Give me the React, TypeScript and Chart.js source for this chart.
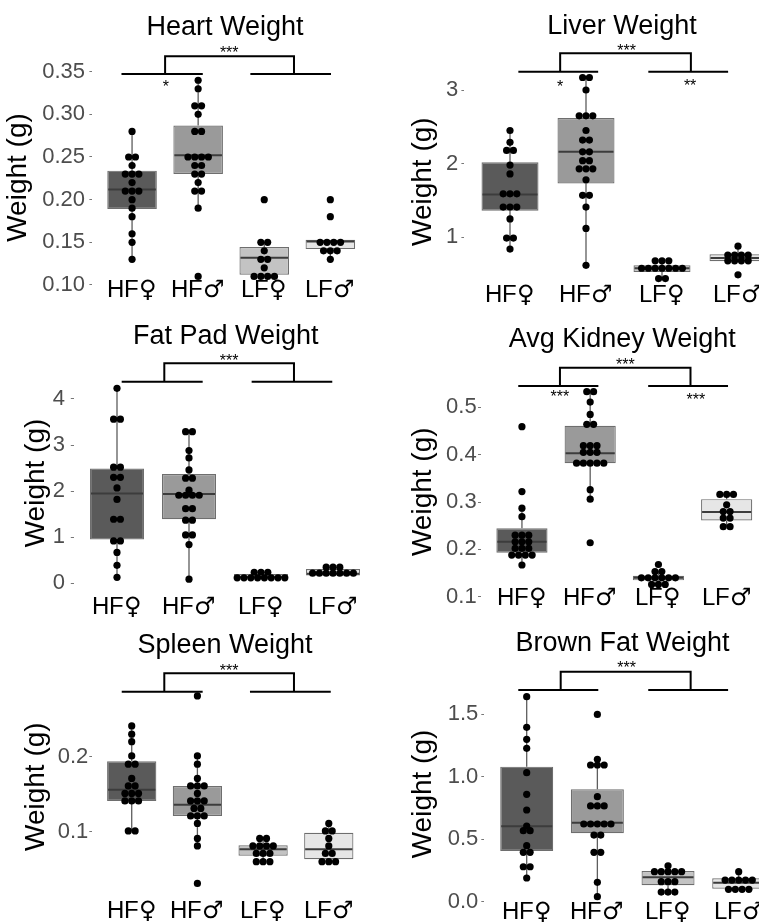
import React, { useEffect, useRef } from 'react';
import { Chart, registerables } from 'chart.js';

Chart.register(...registerables);

const FONT = '"Liberation Sans", "DejaVu Sans", Arial, sans-serif';
const LABEL_FONT = 'PanelSans, "Liberation Sans", "DejaVu Sans", sans-serif';
Chart.defaults.font.family = FONT;

const FONT_CSS = `
@font-face { font-family: 'PanelSans'; src: local('Liberation Sans'), local('LiberationSans'); }
@font-face { font-family: 'PanelSans'; src: local('DejaVu Sans'), local('DejaVuSans'); unicode-range: U+2640-2642; }
`;

const GROUPS = ['HF♀', 'HF♂', 'LF♀', 'LF♂'];
const Y_TITLE = 'Weight (g)';
const BOX_FILLS = ['#5a5a5a', '#9a9a9a', '#c3c3c3', '#e6e6e6'];
const BOX_EDGE = '#6e6e6e';
const WHISKER_COLOR = '#5e5e5e';
const MEDIAN_COLOR = '#3c3c3c';

// ---------- Heart ----------
const HEART_TITLE = 'Heart Weight';
const HEART_TICKS = [0.1, 0.15, 0.2, 0.25, 0.3, 0.35];
const HEART_TICK_LABELS = ['0.10', '0.15', '0.20', '0.25', '0.30', '0.35'];
// [lower whisker, Q1, median, Q3, upper whisker]
const HEART_BOX = [
  [0.13, 0.189, 0.212, 0.234, 0.28],
  [0.19, 0.23, 0.252, 0.287, 0.34],
  [0.11, 0.112, 0.132, 0.1445, 0.15],
  [0.13, 0.142, 0.151, 0.153, 0.153],
];
const HEART_HF_F = [0.28, 0.25, 0.25, 0.24, 0.23, 0.23, 0.23, 0.22, 0.21, 0.21, 0.21, 0.2, 0.19, 0.18, 0.16, 0.15, 0.13];
const HEART_HF_M = [0.34, 0.33, 0.31, 0.31, 0.3, 0.28, 0.28, 0.25, 0.25, 0.25, 0.25, 0.24, 0.24, 0.23, 0.23, 0.22, 0.21, 0.21, 0.19, 0.11];
const HEART_LF_F = [0.2, 0.15, 0.15, 0.14, 0.13, 0.13, 0.12, 0.11, 0.11, 0.11, 0.11];
const HEART_LF_M = [0.2, 0.18, 0.15, 0.15, 0.15, 0.15, 0.14, 0.14, 0.14, 0.13];
const HEART_BRACKET = { left: [0.84, 2.07], right: [2.79, 4.01], drops: [1.5, 3.45], low: 0.3473, high: 0.368, top: ['***', 2.47, 0.3766], marks: [['*', 1.51, 0.3368]] };

// ---------- Liver ----------
const LIVER_TITLE = 'Liver Weight';
const LIVER_TICKS = [1, 2, 3];
const LIVER_TICK_LABELS = ['1', '2', '3'];
const LIVER_BOX = [
  [0.84, 1.36, 1.58, 2.02, 2.45],
  [0.62, 1.73, 2.16, 2.62, 3.17],
  [0.44, 0.53, 0.58, 0.62, 0.68],
  [0.675, 0.675, 0.72, 0.77, 0.88],
];
const LIVER_HF_F = [2.45, 2.29, 2.18, 2.18, 1.98, 1.86, 1.59, 1.59, 1.59, 1.41, 1.41, 1.41, 1.25, 0.99, 0.99, 0.84];
const LIVER_HF_M = [3.17, 3.17, 3.0, 2.65, 2.65, 2.65, 2.45, 2.32, 2.32, 2.16, 2.16, 2.04, 2.04, 1.93, 1.93, 1.93, 1.78, 1.57, 1.57, 1.41, 1.12, 0.62];
const LIVER_LF_F = [0.68, 0.68, 0.68, 0.58, 0.58, 0.58, 0.58, 0.58, 0.58, 0.58, 0.44, 0.44];
const LIVER_LF_M = [0.88, 0.76, 0.76, 0.76, 0.76, 0.68, 0.68, 0.68, 0.68, 0.49];
const LIVER_BRACKET = { left: [1.11, 2.16], right: [2.82, 3.87], drops: [1.66, 3.38], low: 3.249, high: 3.499, top: ['***', 2.535, 3.588], marks: [['*', 1.66, 3.09], ['**', 3.37, 3.11]] };

// ---------- Fat pad ----------
const FAT_TITLE = 'Fat Pad Weight';
const FAT_TICKS = [0, 1, 2, 3, 4];
const FAT_TICK_LABELS = ['0', '1', '2', '3', '4'];
const FAT_BOX = [
  [0.13, 0.95, 1.95, 2.49, 4.23],
  [0.09, 1.39, 1.94, 2.37, 3.29],
  [0.12, 0.12, 0.13, 0.2, 0.24],
  [0.17, 0.17, 0.21, 0.31, 0.35],
];
const FAT_HF_F = [4.23, 3.56, 3.56, 2.52, 2.52, 2.3, 2.3, 2.07, 1.82, 1.39, 1.39, 0.92, 0.92, 0.67, 0.39, 0.13];
const FAT_HF_M = [3.29, 3.29, 2.88, 2.72, 2.46, 2.28, 2.28, 2.02, 1.91, 1.91, 1.91, 1.91, 1.62, 1.62, 1.37, 1.37, 1.05, 1.05, 0.84, 0.09];
const FAT_LF_F = [0.24, 0.24, 0.24, 0.12, 0.12, 0.12, 0.12, 0.12, 0.12, 0.12, 0.12];
const FAT_LF_M = [0.35, 0.35, 0.35, 0.22, 0.22, 0.22, 0.22, 0.22, 0.22, 0.22];
const FAT_BRACKET = { left: [1.065, 2.19], right: [2.87, 3.99], drops: [1.657, 3.458], low: 4.373, high: 4.772, top: ['***', 2.558, 4.915], marks: [] as [string, number, number][] };

// ---------- Kidney ----------
const KIDNEY_TITLE = 'Avg Kidney Weight';
const KIDNEY_TICKS = [0.1, 0.2, 0.3, 0.4, 0.5];
const KIDNEY_TICK_LABELS = ['0.1', '0.2', '0.3', '0.4', '0.5'];
const KIDNEY_BOX = [
  [0.167, 0.193, 0.216, 0.2445, 0.287],
  [0.306, 0.382, 0.403, 0.461, 0.533],
  [0.126, 0.1346, 0.14, 0.1444, 0.153],
  [0.248, 0.261, 0.279, 0.306, 0.316],
];
const KIDNEY_HF_F = [0.459, 0.322, 0.287, 0.269, 0.23, 0.23, 0.23, 0.216, 0.216, 0.216, 0.202, 0.202, 0.202, 0.188, 0.188, 0.188, 0.188, 0.167];
const KIDNEY_HF_M = [0.533, 0.533, 0.511, 0.485, 0.464, 0.464, 0.419, 0.419, 0.419, 0.405, 0.405, 0.405, 0.382, 0.382, 0.382, 0.382, 0.382, 0.326, 0.306, 0.214];
const KIDNEY_LF_F = [0.168, 0.153, 0.153, 0.14, 0.14, 0.14, 0.14, 0.14, 0.14, 0.126, 0.126, 0.126];
const KIDNEY_LF_M = [0.316, 0.316, 0.316, 0.294, 0.28, 0.28, 0.266, 0.266, 0.248, 0.248];
const KIDNEY_BRACKET = { left: [0.946, 2.12], right: [2.85, 4.02], drops: [1.557, 3.47], low: 0.545, high: 0.5836, top: ['***', 2.515, 0.598], marks: [['***', 1.557, 0.5296], ['***', 3.55, 0.5239]] };

// ---------- Spleen ----------
const SPLEEN_TITLE = 'Spleen Weight';
const SPLEEN_TICKS = [0.1, 0.2];
const SPLEEN_TICK_LABELS = ['0.1', '0.2'];
const SPLEEN_BOX = [
  [0.101, 0.141, 0.156, 0.194, 0.241],
  [0.081, 0.121, 0.136, 0.161, 0.201],
  [0.06, 0.068, 0.0765, 0.082, 0.091],
  [0.06, 0.0632, 0.0765, 0.0987, 0.111],
];
const SPLEEN_HF_F = [0.241, 0.23, 0.22, 0.201, 0.19, 0.19, 0.171, 0.161, 0.161, 0.151, 0.151, 0.151, 0.141, 0.141, 0.141, 0.101, 0.101];
const SPLEEN_HF_M = [0.281, 0.201, 0.19, 0.171, 0.161, 0.161, 0.161, 0.151, 0.141, 0.141, 0.141, 0.131, 0.131, 0.121, 0.121, 0.121, 0.111, 0.091, 0.081, 0.031];
const SPLEEN_LF_F = [0.091, 0.091, 0.081, 0.081, 0.081, 0.081, 0.071, 0.071, 0.071, 0.06, 0.06, 0.06];
const SPLEEN_LF_M = [0.111, 0.101, 0.101, 0.091, 0.081, 0.071, 0.071, 0.06, 0.06, 0.06];
const SPLEEN_BRACKET = { left: [0.848, 2.08], right: [2.8, 4.03], drops: [1.496, 3.47], low: 0.2867, high: 0.3112, top: ['***', 2.484, 0.32], marks: [] as [string, number, number][] };

// ---------- Brown fat ----------
const BROWN_TITLE = 'Brown Fat Weight';
const BROWN_TICKS = [0, 0.5, 1, 1.5];
const BROWN_TICK_LABELS = ['0.0', '0.5', '1.0', '1.5'];
const BROWN_BOX = [
  [0.191, 0.407, 0.604, 1.08, 1.638],
  [0.042, 0.548, 0.633, 0.899, 1.138],
  [0.079, 0.133, 0.197, 0.247, 0.289],
  [0.101, 0.106, 0.154, 0.189, 0.242],
];
const BROWN_HF_F = [1.638, 1.394, 1.298, 1.226, 1.032, 0.859, 0.734, 0.606, 0.569, 0.569, 0.449, 0.396, 0.396, 0.281, 0.281, 0.191];
const BROWN_HF_M = [1.497, 1.138, 1.093, 1.093, 1.093, 0.84, 0.766, 0.766, 0.766, 0.622, 0.622, 0.622, 0.622, 0.622, 0.534, 0.534, 0.396, 0.396, 0.157, 0.042];
const BROWN_LF_F = [0.289, 0.242, 0.242, 0.242, 0.242, 0.242, 0.162, 0.162, 0.162, 0.079, 0.079, 0.079];
const BROWN_LF_M = [0.242, 0.175, 0.175, 0.175, 0.175, 0.175, 0.101, 0.101, 0.101, 0.101];
const BROWN_BRACKET = { left: [0.881, 2.013], right: [2.72, 3.85], drops: [1.481, 3.32], low: 1.6915, high: 1.8376, top: ['***', 2.414, 1.899], marks: [] as [string, number, number][] };

// ---------- layout (page pixels) ----------
type Layout = {
  canvas: [number, number, number, number];
  area: [number, number, number, number];
  yLim: [number, number];
  titleAt: [number, number];
  xPad: number;
  tickGap: number;
  yTitleX: number;
};

const PANELS = [
  { title: HEART_TITLE, ticks: HEART_TICKS, tickLabels: HEART_TICK_LABELS, box: HEART_BOX, dots: [HEART_HF_F, HEART_HF_M, HEART_LF_F, HEART_LF_M], bracket: HEART_BRACKET,
    layout: { canvas: [0, 0, 380, 320], area: [92.4, 68.8, 370, 286.2], yLim: [0.0985, 0.3534], titleAt: [225, 27.5], xPad: -10, tickGap: 7.4, yTitleX: 18.2 } as Layout },
  { title: LIVER_TITLE, ticks: LIVER_TICKS, tickLabels: LIVER_TICK_LABELS, box: LIVER_BOX, dots: [LIVER_HF_F, LIVER_HF_M, LIVER_LF_F, LIVER_LF_M], bracket: LIVER_BRACKET,
    layout: { canvas: [400, 0, 400, 320], area: [464.4, 73.4, 783.6, 290], yLim: [0.2845, 3.2254], titleAt: [622, 26.2], xPad: -9.1, tickGap: 6.1, yTitleX: 423.4 } as Layout },
  { title: FAT_TITLE, ticks: FAT_TICKS, tickLabels: FAT_TICK_LABELS, box: FAT_BOX, dots: [FAT_HF_F, FAT_HF_M, FAT_LF_F, FAT_LF_M], bracket: FAT_BRACKET,
    layout: { canvas: [0, 300, 380, 330], area: [73.8, 377.3, 376.2, 588.7], yLim: [-0.117, 4.469], titleAt: [225.8, 336.5], xPad: 4.5, tickGap: 8.8, yTitleX: 36.4 } as Layout },
  { title: KIDNEY_TITLE, ticks: KIDNEY_TICKS, tickLabels: KIDNEY_TICK_LABELS, box: KIDNEY_BOX, dots: [KIDNEY_HF_F, KIDNEY_HF_M, KIDNEY_LF_F, KIDNEY_LF_M], bracket: KIDNEY_BRACKET,
    layout: { canvas: [400, 300, 400, 330], area: [481, 385.5, 767.6, 598], yLim: [0.0973, 0.546], titleAt: [622.2, 340], xPad: -14.5, tickGap: 4.3, yTitleX: 423.4 } as Layout },
  { title: SPLEEN_TITLE, ticks: SPLEEN_TICKS, tickLabels: SPLEEN_TICK_LABELS, box: SPLEEN_BOX, dots: [SPLEEN_HF_F, SPLEEN_HF_M, SPLEEN_LF_F, SPLEEN_LF_M], bracket: SPLEEN_BRACKET,
    layout: { canvas: [0, 610, 380, 313], area: [92.3, 683.4, 368.2, 890], yLim: [0.0223, 0.2977], titleAt: [225, 645.2], xPad: 6.9, tickGap: 4, yTitleX: 36.4 } as Layout },
  { title: BROWN_TITLE, ticks: BROWN_TICKS, tickLabels: BROWN_TICK_LABELS, box: BROWN_BOX, dots: [BROWN_HF_F, BROWN_HF_M, BROWN_LF_F, BROWN_LF_M], bracket: BROWN_BRACKET,
    layout: { canvas: [400, 610, 400, 313], area: [484.3, 683, 781.1, 905], yLim: [-0.0243, 1.7474], titleAt: [622.5, 643.3], xPad: -7.5, tickGap: 6, yTitleX: 423.4 } as Layout },
];

type Panel = typeof PANELS[number];

const X_AXIS_H = 15;
const TICK_LEN = 3;
const DOT_GAP = 6.8;
const DOT_R = 3.6;
const TITLE_SIZE = 27;
const YTITLE_SIZE = 28;
const TICK_SIZE = 22;
const XLABEL_SIZE = 24;
const STAR_SIZE = 16;

function stackDots(values: number[], cat: number, step: number) {
  const counts = new Map<number, number>();
  values.forEach((v) => counts.set(v, (counts.get(v) || 0) + 1));
  const out: { x: number; y: number }[] = [];
  counts.forEach((n, v) => {
    for (let k = 0; k < n; k++) out.push({ x: cat + (k - (n - 1) / 2) * step, y: v });
  });
  return out;
}

function makeChart(canvas: HTMLCanvasElement, panel: Panel) {
  const lay = panel.layout;
  const [cx, cy, cw, ch] = lay.canvas;
  const [L, T, R, B] = lay.area;
  const pxPerCat = (R - L) / 4.2;
  const step = DOT_GAP / pxPerCat;
  const dots = panel.dots.flatMap((vals, i) => stackDots(vals, i + 1, step));
  const yTitleLine = YTITLE_SIZE * 1.2;

  const extras = {
    id: 'panelExtras',
    beforeDatasetsDraw(chart: any) {
      const { ctx } = chart;
      const x = chart.scales.x;
      const y = chart.scales.y;
      ctx.save();
      ctx.strokeStyle = WHISKER_COLOR;
      ctx.lineWidth = 1.3;
      panel.box.forEach((b, i) => {
        const px = x.getPixelForValue(i + 1);
        ctx.beginPath();
        ctx.moveTo(px, y.getPixelForValue(b[0]));
        ctx.lineTo(px, y.getPixelForValue(b[1]));
        ctx.moveTo(px, y.getPixelForValue(b[3]));
        ctx.lineTo(px, y.getPixelForValue(b[4]));
        ctx.stroke();
      });
      ctx.restore();
    },
    afterDatasetDraw(chart: any, args: any) {
      if (args.meta.type !== 'bar') return;
      const { ctx } = chart;
      const y = chart.scales.y;
      ctx.save();
      ctx.strokeStyle = MEDIAN_COLOR;
      ctx.lineWidth = 2;
      args.meta.data.forEach((el: any, i: number) => {
        const { x, width } = el.getProps(['x', 'width'], true);
        const py = y.getPixelForValue(panel.box[i][2]);
        ctx.beginPath();
        ctx.moveTo(x - width / 2 + 1, py);
        ctx.lineTo(x + width / 2 - 1, py);
        ctx.stroke();
      });
      ctx.restore();
    },
    afterDraw(chart: any) {
      const { ctx } = chart;
      const x = chart.scales.x;
      const y = chart.scales.y;
      ctx.save();
      ctx.fillStyle = '#000';
      ctx.font = `${TITLE_SIZE}px ${FONT}`;
      ctx.textAlign = 'center';
      ctx.textBaseline = 'middle';
      ctx.fillText(panel.title, lay.titleAt[0] - cx, lay.titleAt[1] - cy);
      const br = panel.bracket;
      const yl = y.getPixelForValue(br.low);
      const yh = y.getPixelForValue(br.high);
      ctx.strokeStyle = '#000';
      ctx.lineWidth = 2;
      ctx.beginPath();
      ctx.moveTo(x.getPixelForValue(br.left[0]), yl);
      ctx.lineTo(x.getPixelForValue(br.left[1]), yl);
      ctx.moveTo(x.getPixelForValue(br.right[0]), yl);
      ctx.lineTo(x.getPixelForValue(br.right[1]), yl);
      ctx.moveTo(x.getPixelForValue(br.drops[0]), yl);
      ctx.lineTo(x.getPixelForValue(br.drops[0]), yh);
      ctx.lineTo(x.getPixelForValue(br.drops[1]), yh);
      ctx.lineTo(x.getPixelForValue(br.drops[1]), yl);
      ctx.stroke();
      ctx.font = `${STAR_SIZE}px ${FONT}`;
      ctx.textBaseline = 'alphabetic';
      const stars = [br.top, ...br.marks] as [string, number, number][];
      stars.forEach(([txt, sx, sy]) => {
        ctx.fillText(txt, x.getPixelForValue(sx), y.getPixelForValue(sy) + 0.57 * STAR_SIZE);
      });
      ctx.restore();
    },
  };

  return new Chart(canvas, {
    type: 'bar',
    data: {
      datasets: [
        {
          type: 'scatter',
          data: dots,
          backgroundColor: '#000',
          borderWidth: 0,
          pointRadius: DOT_R,
          pointHoverRadius: DOT_R,
          order: 0,
          clip: false,
        } as any,
        {
          type: 'bar',
          data: panel.box.map((b, i) => ({ x: i + 1, y: [b[1], b[3]] })),
          backgroundColor: BOX_FILLS,
          borderColor: BOX_EDGE,
          borderWidth: 1.2,
          borderSkipped: false,
          barPercentage: 0.75,
          categoryPercentage: 1,
          order: 1,
          clip: false,
        } as any,
      ],
    },
    options: {
      responsive: false,
      animation: false,
      events: [],
      layout: {
        padding: {
          left: 0,
          top: T - cy,
          right: cx + cw - R,
          bottom: cy + ch - B - X_AXIS_H,
        },
      },
      plugins: {
        legend: { display: false },
        tooltip: { enabled: false },
        title: { display: false },
      },
      scales: {
        x: {
          type: 'linear',
          min: 0.4,
          max: 4.6,
          bounds: 'data',
          offset: false,
          grid: { display: false, drawTicks: false },
          border: { display: false },
          afterBuildTicks: (s: any) => {
            s.ticks = GROUPS.map((_, i) => ({ value: i + 1 }));
            // let the category labels overhang the axis box without being clipped
            s._computeLabelArea = () => undefined;
          },
          afterFit: (s: any) => {
            s.height = X_AXIS_H;
            s.paddingLeft = 0;
            s.paddingRight = 0;
          },
          ticks: {
            autoSkip: false,
            maxRotation: 0,
            minRotation: 0,
            padding: lay.xPad,
            color: '#000',
            font: { size: XLABEL_SIZE, family: LABEL_FONT },
            callback: (v: any) => GROUPS[Math.round(Number(v)) - 1],
          },
        },
        y: {
          type: 'linear',
          min: lay.yLim[0],
          max: lay.yLim[1],
          bounds: 'data',
          beginAtZero: false,
          grid: { display: true, drawOnChartArea: false, drawTicks: true, tickLength: TICK_LEN, color: '#777', lineWidth: 1 },
          border: { display: false },
          afterBuildTicks: (s: any) => {
            s.ticks = panel.ticks.map((v) => ({ value: v }));
          },
          afterFit: (s: any) => {
            s.width = L - cx;
            s.paddingTop = 0;
            s.paddingBottom = 0;
          },
          ticks: {
            autoSkip: false,
            padding: lay.tickGap - TICK_LEN,
            color: '#4d4d4d',
            font: { size: TICK_SIZE },
            callback: (_v: any, i: number) => panel.tickLabels[i],
          },
          title: {
            display: true,
            text: Y_TITLE,
            color: '#000',
            font: { size: YTITLE_SIZE },
            padding: { top: lay.yTitleX - cx - yTitleLine / 2, bottom: 0 },
          },
        },
      },
    } as any,
    plugins: [extras as any],
  });
}

function PanelCanvas({ panel }: { panel: Panel }) {
  const ref = useRef<HTMLCanvasElement | null>(null);
  const [cx, cy, cw, ch] = panel.layout.canvas;
  useEffect(() => {
    let chart: Chart | null = null;
    let cancelled = false;
    const build = () => {
      if (cancelled || !ref.current) return;
      chart = makeChart(ref.current, panel);
    };
    const fonts = (document as any).fonts;
    if (fonts && fonts.load) {
      fonts
        .load(`${XLABEL_SIZE}px PanelSans`, 'HF♀♂')
        .then(build, build);
    } else {
      build();
    }
    return () => {
      cancelled = true;
      if (chart) chart.destroy();
    };
  }, [panel]);
  return (
    <canvas
      ref={ref}
      width={cw}
      height={ch}
      style={{ position: 'absolute', left: cx, top: cy, width: cw, height: ch }}
    />
  );
}

export default function App() {
  return (
    <div
      style={{
        position: 'absolute',
        left: 0,
        top: 0,
        width: 759,
        height: 923,
        overflow: 'hidden',
        background: '#fff',
      }}
    >
      <style>{FONT_CSS}</style>
      {PANELS.map((p) => (
        <PanelCanvas key={p.title} panel={p} />
      ))}
    </div>
  );
}
